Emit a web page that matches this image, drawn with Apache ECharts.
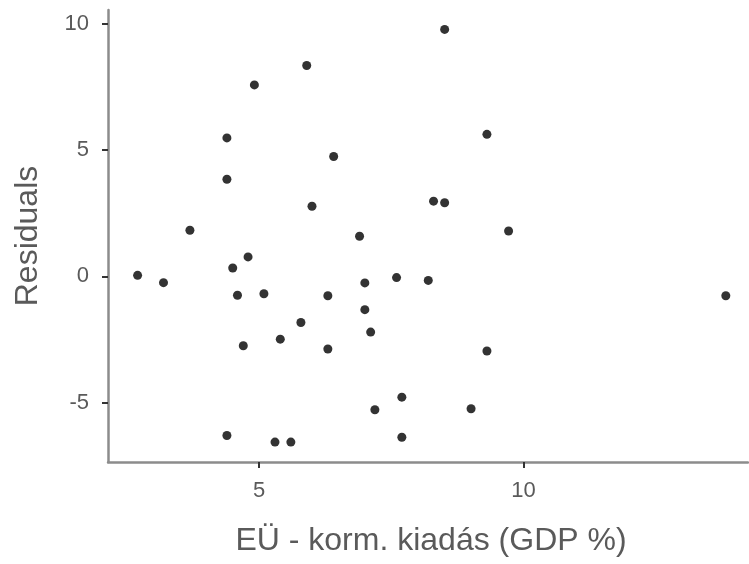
<!DOCTYPE html>
<html>
<head>
<meta charset="utf-8">
<script src="https://cdn.jsdelivr.net/npm/echarts@6/dist/echarts.min.js"></script>
<style>
  html, body { margin: 0; padding: 0; background: #ffffff; }
  #chart { width: 749px; height: 564px; }
</style>
</head>
<body>
<div id="chart"></div>
<script>
// Health spending (% of GDP) against model residuals
const spending = [
  2.70, 3.19, 3.69, 4.39, 4.39, 4.91, 4.50, 4.79, 4.59, 4.70,
  4.39, 8.51, 5.90, 9.31, 6.41, 6.00, 8.30, 8.51, 6.90, 5.09,
  6.30, 7.00, 7.60, 8.20, 7.00, 5.79, 7.11, 5.40, 6.30, 9.31,
  7.70, 7.19, 9.01, 7.70, 5.30, 5.60, 9.72, 13.83
];
const residuals = [
  0.04, -0.25, 1.83, 5.49, 3.85, 7.59, 0.33, 0.77, -0.75, -2.75,
  -6.31, 9.79, 8.36, 5.63, 4.75, 2.78, 2.98, 2.92, 1.59, -0.69,
  -0.77, -0.26, -0.05, -0.16, -1.32, -1.83, -2.21, -2.49, -2.88, -2.96,
  -4.79, -5.29, -5.25, -6.38, -6.57, -6.57, 1.80, -0.77
];
const xTicks = [5, 10];
const yTicks = [-5, 0, 5, 10];
const xTitle = 'EÜ - korm. kiadás (GDP %)';
const yTitle = 'Residuals';

const points = spending.map((x, i) => [x, residuals[i]]);

const font = 'Liberation Sans, Arial, sans-serif';
const axisLineStyle = { color: '#8c8c8c', width: 2.5 };
const tickStyle = { color: '#333333', width: 2 };
const labelStyle = { color: '#5a5a5a', fontSize: 22, fontFamily: font };
const nameStyle = { color: '#5a5a5a', fontSize: 32, fontFamily: font };

const chart = echarts.init(document.getElementById('chart'), null, { renderer: 'canvas' });
chart.setOption({
  animation: false,
  backgroundColor: '#ffffff',
  grid: { left: 108, right: 1, top: 10, bottom: 102, containLabel: false },
  xAxis: {
    type: 'value',
    min: 2.14,
    max: 14.25,
    name: xTitle,
    nameLocation: 'middle',
    nameGap: 63,
    nameTextStyle: Object.assign({ padding: [0, 0, 0, 6] }, nameStyle),
    axisLine: { show: true, onZero: false, lineStyle: axisLineStyle },
    axisTick: { show: true, length: 6, customValues: xTicks, lineStyle: tickStyle },
    axisLabel: Object.assign({ margin: 18, customValues: xTicks }, labelStyle),
    splitLine: { show: false }
  },
  yAxis: {
    type: 'value',
    min: -7.36,
    max: 10.56,
    name: yTitle,
    nameLocation: 'middle',
    nameGap: 64,
    nameTextStyle: nameStyle,
    axisLine: { show: true, onZero: false, lineStyle: axisLineStyle },
    axisTick: { show: true, length: 6, customValues: yTicks, lineStyle: tickStyle },
    axisLabel: Object.assign({ margin: 19, customValues: yTicks }, labelStyle),
    splitLine: { show: false }
  },
  series: [{
    type: 'scatter',
    data: points,
    symbol: 'circle',
    symbolSize: 9,
    itemStyle: { color: '#333333', opacity: 1 }
  }]
});
</script>
</body>
</html>
